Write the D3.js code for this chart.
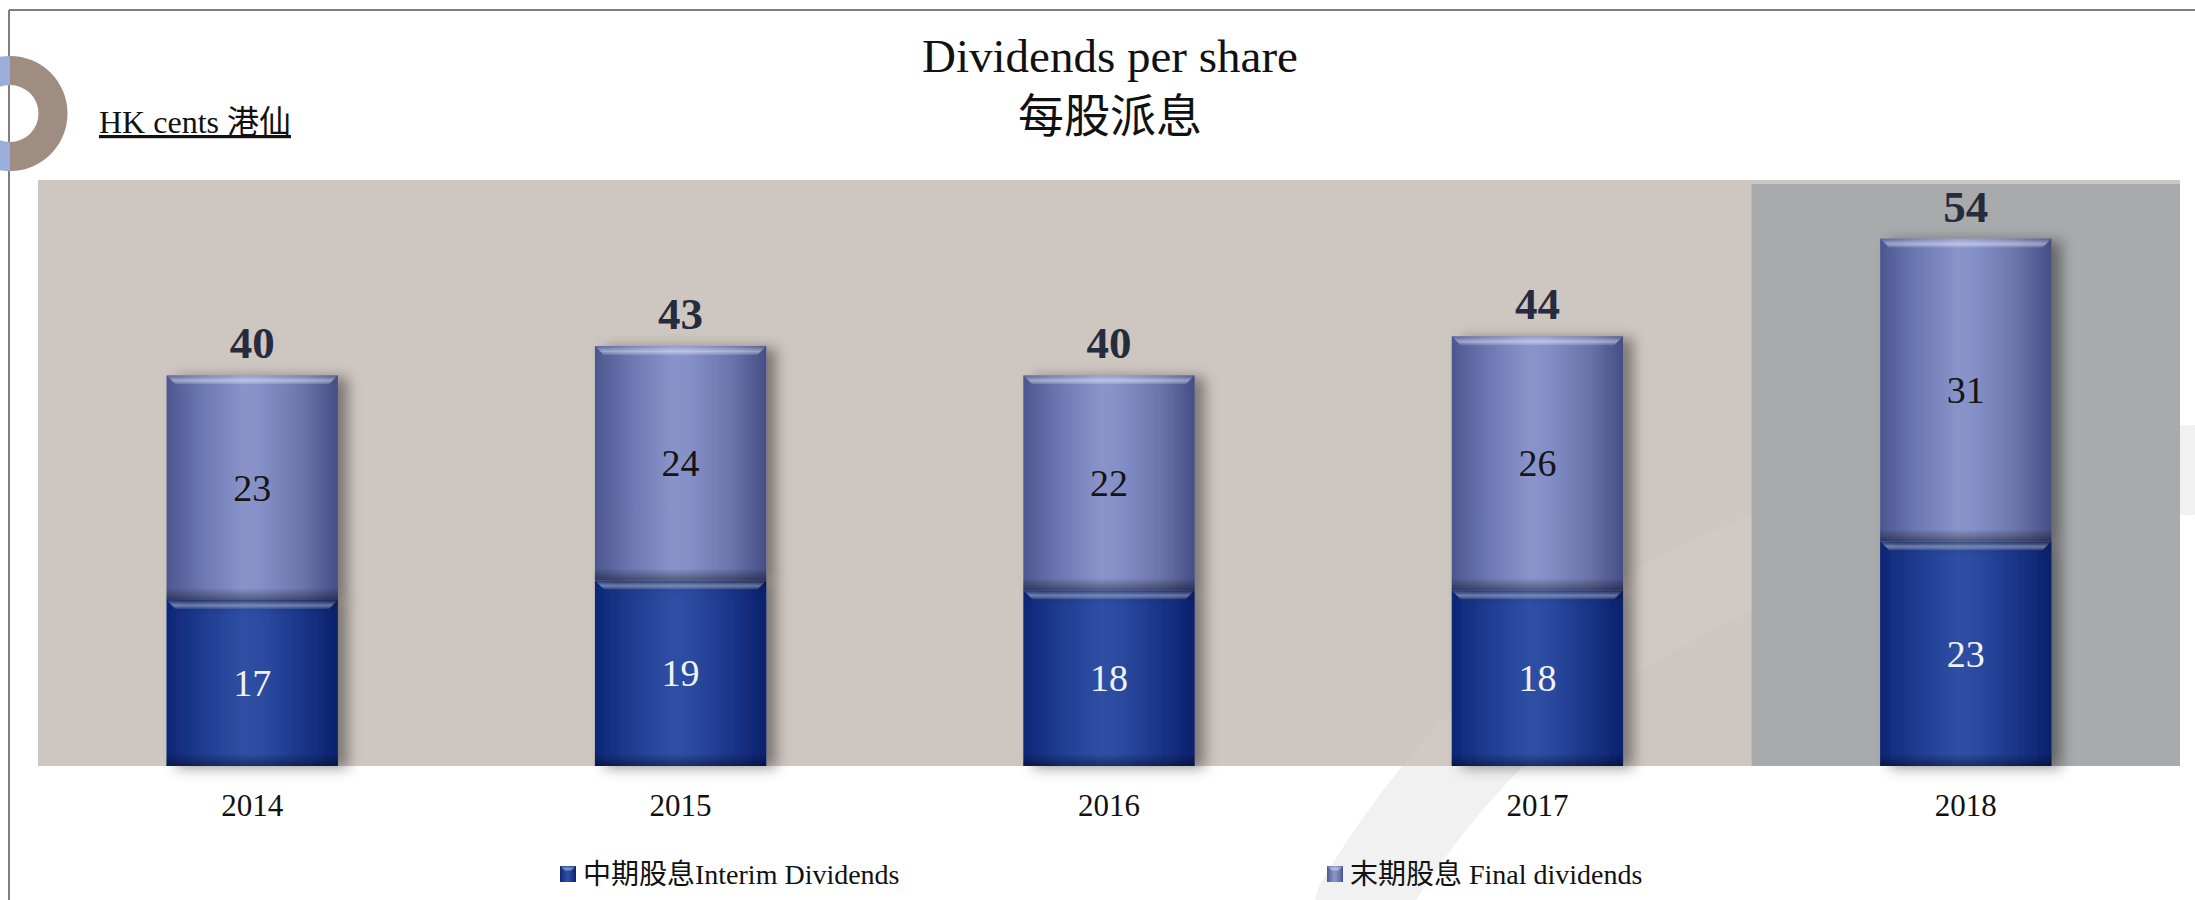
<!DOCTYPE html>
<html>
<head>
<meta charset="utf-8">
<script src="https://cdn.jsdelivr.net/npm/d3@7"></script>
<style>
  body { margin: 0; background: #ffffff; }
  svg { display: block; }
</style>
</head>
<body>
<div id="chart"></div>
<script>
// ---- data ----
const years = ["2014", "2015", "2016", "2017", "2018"];
const interim = [17, 19, 18, 18, 23];
const finalDiv = [23, 24, 22, 26, 31];
const totals = [40, 43, 40, 44, 54];
const seriesKeys = ["interim", "final"];
const seriesNames = ["中期股息Interim Dividends", "末期股息 Final dividends"];
const highlightYear = "2018";

const width = 2195, height = 900;
const plot = { left: 38, right: 2180, top: 180, bottom: 766 };
const serif = "'Liberation Serif', 'Noto Sans CJK TC', serif";

const svg = d3.select("#chart").append("svg")
    .attr("width", width)
    .attr("height", height);

const defs = svg.append("defs");

// horizontal shading for the bevelled bars
const gradients = {
    final: ["#4c5790", "#6b76b0", "#8a94cb", "#8690c8", "#6a74ab", "#454e86"],
    interim: ["#0d2676", "#1e3b8f", "#2e4fa4", "#2c4ca1", "#1a3488", "#0b216c"]
};
Object.entries(gradients).forEach(([key, stops]) => {
    const g = defs.append("linearGradient").attr("id", "grad-" + key)
        .attr("x1", 0).attr("x2", 1).attr("y1", 0).attr("y2", 0);
    const offs = [0, 0.2, 0.45, 0.55, 0.8, 1];
    stops.forEach((c, i) => g.append("stop").attr("offset", offs[i]).attr("stop-color", c));
});

// bevel highlight at the top of each segment
const bevelTop = defs.append("linearGradient").attr("id", "bevel-top")
    .attr("x1", 0).attr("x2", 0).attr("y1", 0).attr("y2", 1);
bevelTop.append("stop").attr("offset", 0).attr("stop-color", "#ffffff").attr("stop-opacity", 0.05);
bevelTop.append("stop").attr("offset", 0.6).attr("stop-color", "#ffffff").attr("stop-opacity", 0.45);
bevelTop.append("stop").attr("offset", 1).attr("stop-color", "#ffffff").attr("stop-opacity", 0.1);

// dark edge at the bottom of each segment
const bevelBottom = defs.append("linearGradient").attr("id", "bevel-bottom")
    .attr("x1", 0).attr("x2", 0).attr("y1", 0).attr("y2", 1);
bevelBottom.append("stop").attr("offset", 0).attr("stop-color", "#000000").attr("stop-opacity", 0);
bevelBottom.append("stop").attr("offset", 1).attr("stop-color", "#000000").attr("stop-opacity", 0.4);

const shadow = defs.append("filter").attr("id", "shadow")
    .attr("x", "-20%").attr("y", "-10%").attr("width", "150%").attr("height", "120%");
shadow.append("feDropShadow")
    .attr("dx", 10).attr("dy", 2)
    .attr("stdDeviation", 7)
    .attr("flood-color", "#000000")
    .attr("flood-opacity", 0.4);

// faint brush swoosh in the background
const swoosh = "M1360,905 C1440,770 1560,640 1760,560 C1930,495 2080,470 2200,470";
svg.append("path").attr("d", swoosh)
    .attr("fill", "none").attr("stroke", "#f1f1f1").attr("stroke-width", 90)
    .attr("stroke-linecap", "round");

// ---- frame & decoration ----
svg.append("line").attr("x1", 9).attr("x2", width).attr("y1", 10).attr("y2", 10)
    .attr("stroke", "#7f7f7f").attr("stroke-width", 2);
svg.append("line").attr("x1", 9).attr("x2", 9).attr("y1", 10).attr("y2", height)
    .attr("stroke", "#7f7f7f").attr("stroke-width", 2);

const ringArc = d3.arc().innerRadius(28.5).outerRadius(57.5);
const ring = svg.append("g").attr("transform", "translate(10,113.5)");
ring.append("path").attr("d", ringArc({ startAngle: Math.PI, endAngle: 2 * Math.PI })).attr("fill", "#9aaedc");
ring.append("path").attr("d", ringArc({ startAngle: 0, endAngle: Math.PI })).attr("fill", "#a08d82");

// ---- titles ----
svg.append("text").text("Dividends per share")
    .attr("x", 1110).attr("y", 72)
    .attr("text-anchor", "middle")
    .attr("font-family", serif).attr("font-size", 47).attr("fill", "#111");
svg.append("text").text("每股派息")
    .attr("x", 1110).attr("y", 132)
    .attr("text-anchor", "middle")
    .attr("font-family", serif).attr("font-size", 46).attr("fill", "#111");
svg.append("text").text("HK cents 港仙")
    .attr("x", 99).attr("y", 133)
    .attr("font-family", serif).attr("font-size", 32)
    .attr("text-decoration", "underline").attr("fill", "#111");

// ---- scales ----
const x = d3.scaleBand()
    .domain(years)
    .range([plot.left, plot.right])
    .paddingInner(0.6)
    .paddingOuter(0.3);

const y = d3.scaleLinear()
    .domain([0, 60])
    .range([plot.bottom, plot.top]);

// plot background + highlighted last year
svg.append("rect")
    .attr("x", plot.left).attr("y", plot.top)
    .attr("width", plot.right - plot.left).attr("height", plot.bottom - plot.top)
    .attr("fill", "#cec6c1");
svg.append("path").attr("d", swoosh)
    .attr("fill", "none").attr("stroke", "#ffffff").attr("stroke-opacity", 0.06)
    .attr("stroke-width", 90);

const gap = x.step() - x.bandwidth();
svg.append("rect")
    .attr("x", x(highlightYear) - gap / 2)
    .attr("y", plot.top + 4)
    .attr("width", plot.right - (x(highlightYear) - gap / 2))
    .attr("height", plot.bottom - plot.top - 4)
    .attr("fill", "#a9aaac");

// ---- stacked bars ----
const table = years.map((yr, i) => ({ year: yr, interim: interim[i], final: finalDiv[i], total: totals[i] }));
const stacked = d3.stack().keys(seriesKeys)(table);

const bw = x.bandwidth();
const bevel = 9;

const layers = svg.selectAll("g.layer")
    .data(stacked)
    .join("g")
    .attr("class", "layer");

const segs = layers.selectAll("g.seg")
    .data(s => s.map(d => ({ key: s.key, y0: d[0], y1: d[1], year: d.data.year })))
    .join("g")
    .attr("class", "seg");

segs.append("rect")
    .attr("x", d => x(d.year))
    .attr("y", d => y(d.y1))
    .attr("width", bw)
    .attr("height", d => y(d.y0) - y(d.y1))
    .attr("fill", d => `url(#grad-${d.key})`)
    .attr("filter", "url(#shadow)");

// top bevel
segs.append("path")
    .attr("d", d => {
        const x0 = x(d.year), t = y(d.y1);
        return `M${x0},${t}L${x0 + bw},${t}L${x0 + bw - bevel},${t + bevel}L${x0 + bevel},${t + bevel}Z`;
    })
    .attr("fill", "url(#bevel-top)");

// bottom bevel
segs.append("rect")
    .attr("x", d => x(d.year))
    .attr("y", d => y(d.y0) - 12)
    .attr("width", bw)
    .attr("height", 12)
    .attr("fill", "url(#bevel-bottom)");

// segment labels
segs.append("text")
    .text(d => d.y1 - d.y0)
    .attr("x", d => x(d.year) + bw / 2)
    .attr("y", d => (y(d.y0) + y(d.y1)) / 2 + 13)
    .attr("text-anchor", "middle")
    .attr("font-family", serif)
    .attr("font-size", 38)
    .attr("fill", d => d.key === "interim" ? "#f2f2f2" : "#151515");

// totals above bars
svg.selectAll("text.total")
    .data(table)
    .join("text")
    .attr("class", "total")
    .text(d => d.total)
    .attr("x", d => x(d.year) + bw / 2)
    .attr("y", d => y(d.total) - 17)
    .attr("text-anchor", "middle")
    .attr("font-family", serif)
    .attr("font-weight", "bold")
    .attr("font-size", 45)
    .attr("fill", "#262b3d");

// ---- x axis (labels only) ----
const xAxis = svg.append("g")
    .attr("transform", `translate(0,${plot.bottom})`)
    .call(d3.axisBottom(x).tickSize(0).tickPadding(28));
xAxis.select(".domain").remove();
xAxis.selectAll("text")
    .attr("font-family", serif)
    .attr("font-size", 31)
    .attr("fill", "#111");

// ---- legend ----
const legendPos = [560, 1327];
const legend = svg.selectAll("g.legend")
    .data(seriesKeys)
    .join("g")
    .attr("class", "legend")
    .attr("transform", (d, i) => `translate(${legendPos[i]},866)`);

legend.append("rect")
    .attr("width", 16).attr("height", 16)
    .attr("fill", d => `url(#grad-${d})`);
legend.append("path")
    .attr("d", "M0,0L16,0L11,5L5,5Z")
    .attr("fill", "url(#bevel-top)");
legend.append("text")
    .text((d, i) => seriesNames[i])
    .attr("x", 23)
    .attr("y", 18)
    .attr("font-family", serif)
    .attr("font-size", 28)
    .attr("fill", "#111");
</script>
</body>
</html>
